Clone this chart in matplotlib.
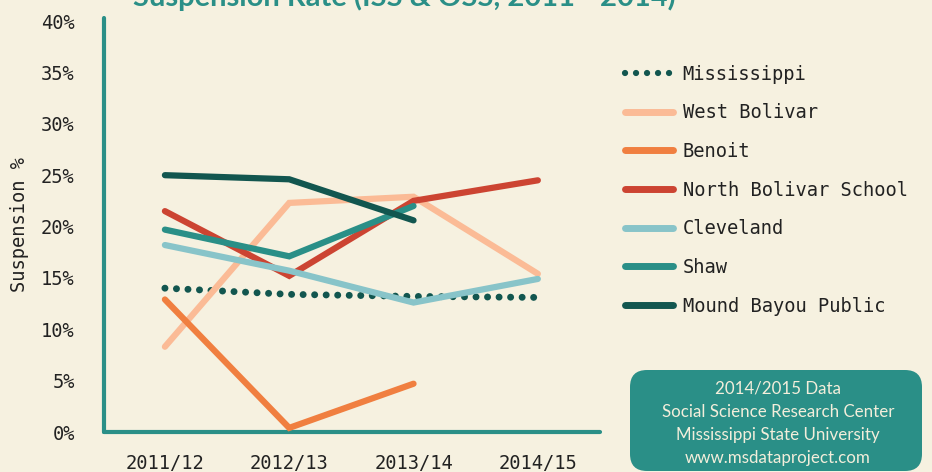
import matplotlib
matplotlib.use("Agg")
import matplotlib.pyplot as plt
from matplotlib.patches import FancyBboxPatch
from matplotlib.lines import Line2D

years = ["2011/12", "2012/13", "2013/14", "2014/15"]
mississippi = [14.0, 13.4, 13.2, 13.1]
west_bolivar = [8.3, 22.3, 22.9, 15.4]
benoit = [12.9, 0.4, 4.7, None]
north_bolivar = [21.5, 15.2, 22.5, 24.5]
cleveland = [18.2, 15.7, 12.6, 14.9]
shaw = [19.7, 17.1, 22.0, None]
mound_bayou = [25.0, 24.6, 20.6, None]
yticks = [0, 5, 10, 15, 20, 25, 30, 35, 40]

BG = "#f6f1e0"
TEAL = "#2a8f87"
DARK = "#12564f"
series = [
    ("Mississippi", mississippi, DARK, "dot"),
    ("West Bolivar", west_bolivar, "#fbbb96", "solid"),
    ("Benoit", benoit, "#f07f40", "solid"),
    ("North Bolivar School", north_bolivar, "#cc4432", "solid"),
    ("Cleveland", cleveland, "#88c4c9", "solid"),
    ("Shaw", shaw, TEAL, "solid"),
    ("Mound Bayou Public", mound_bayou, DARK, "solid"),
]

fig = plt.figure(figsize=(9.32, 4.72), dpi=100, facecolor=BG)
ax = fig.add_axes([104/932, 1-432/472, (600-104)/932, (432-18)/472])
ax.set_facecolor(BG)

mono = "DejaVu Sans Mono"
x = list(range(len(years)))
handles = []
for name, vals, col, st in series:
    xs = [xi for xi, v in zip(x, vals) if v is not None]
    ys = [v for v in vals if v is not None]
    if st == "dot":
        ax.plot(xs, ys, color=col, lw=5, linestyle=(0, (0.01, 1.65)),
                dash_capstyle="round", zorder=2)
        h = Line2D([], [], color=col, lw=4.5, linestyle=(0, (0.01, 1.75)),
                   dash_capstyle="round")
    else:
        ax.plot(xs, ys, color=col, lw=4.5, solid_capstyle="round",
                solid_joinstyle="miter", zorder=3)
        h = Line2D([], [], color=col, lw=5, solid_capstyle="round")
    handles.append((h, name))

ax.set_xlim(-0.49, 3.5)
ax.set_ylim(0, 40.3)
ax.set_xticks(x)
ax.set_xticklabels(years, fontfamily=mono, fontsize=13.5, color="#222222")
ax.set_yticks(yticks)
ax.set_yticklabels([f"{v}%" for v in yticks], fontfamily=mono, fontsize=13.5, color="#222222")
ax.tick_params(axis="y", length=0, pad=21)
ax.tick_params(axis="x", length=0, pad=16)
for s in ["top", "right"]:
    ax.spines[s].set_visible(False)
for s in ["left", "bottom"]:
    ax.spines[s].set_color(TEAL)
    ax.spines[s].set_linewidth(3)
    ax.spines[s].set_capstyle("round")
ax.set_ylabel("Suspension %", fontfamily=mono, fontsize=13.5, color="#222222")
ax.yaxis.set_label_coords(-0.152, 0.5)

fig.text(404/932, 1-6/472, "Suspension Rate (ISS & OSS, 2011 - 2014)",
         ha="center", va="baseline", fontfamily="Lato", fontweight="bold",
         fontsize=21, color=TEAL)

leg = fig.legend([h for h, _ in handles], [n for _, n in handles],
                 loc="upper left", bbox_to_anchor=(617/932, 1-57/472),
                 frameon=False, prop={"family": mono, "size": 13.5},
                 handlelength=2.6, handletextpad=0.5, labelspacing=1.05,
                 borderaxespad=0)
for t in leg.get_texts():
    t.set_color("#222222")

box = FancyBboxPatch((6.30, 0.01), 2.92, 1.01,
                     boxstyle="round,pad=0,rounding_size=0.17",
                     transform=fig.dpi_scale_trans, facecolor=TEAL,
                     edgecolor="none", zorder=5)
fig.patches.append(box)
lines = ["2014/2015 Data", "Social Science Research Center",
         "Mississippi State University", "www.msdataproject.com"]
for i, ln in enumerate(lines):
    fig.text(778/932, 1-(389+23*i)/472, ln, ha="center", va="center",
             fontfamily="Lato", fontsize=12.2, color="#f3eedb", zorder=6)

fig.savefig("out.png", dpi=100, facecolor=BG)
